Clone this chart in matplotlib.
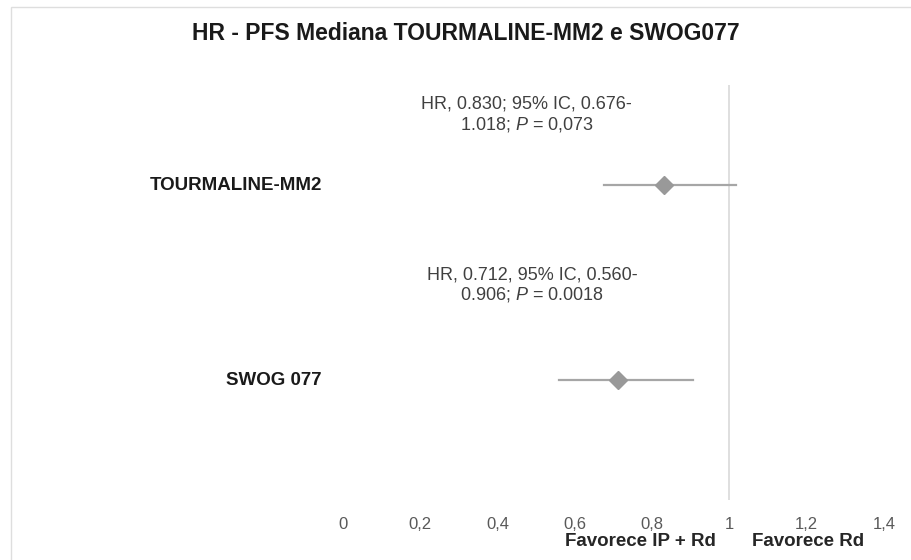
import matplotlib.pyplot as plt
from matplotlib.patches import Rectangle

plt.rcParams['font.family'] = ['Liberation Sans', 'DejaVu Sans']
plt.rcParams['mathtext.fontset'] = 'custom'
plt.rcParams['mathtext.rm'] = 'Liberation Sans'
plt.rcParams['mathtext.it'] = 'Liberation Sans:italic'

# dados
estudos = ['TOURMALINE-MM2', 'SWOG 077']
hr = [0.830, 0.712]
ic_inf = [0.676, 0.560]
ic_sup = [1.018, 0.906]
rotulos = ['HR, 0.830; 95% IC, 0.676-\n1.018; $\\it{P}$ = 0,073',
           'HR, 0.712, 95% IC, 0.560-\n0.906; $\\it{P}$ = 0.0018']
ticks = [0, 0.2, 0.4, 0.6, 0.8, 1, 1.2, 1.4]
tick_labels = ['0', '0,2', '0,4', '0,6', '0,8', '1', '1,2', '1,4']

fig = plt.figure(figsize=(9.11, 5.6), dpi=100)
fig.patches.append(Rectangle((11 / 911, -0.01), 1.0, 1 - 7 / 560 + 0.01,
                             transform=fig.transFigure, fill=False,
                             edgecolor='#dedede', linewidth=1))
ax = fig.add_axes([343 / 911, 60 / 560, (884 - 343) / 911, (500 - 85) / 560])

ypos = [2, 1]
xtxt = [0.475, 0.49]
dy = [0.36, 0.485]  # deslocamento vertical das caixas de texto
for i in range(len(estudos)):
    ax.plot([ic_inf[i], ic_sup[i]], [ypos[i], ypos[i]], color='#a6a6a6', lw=1.6, zorder=2)
    ax.plot(hr[i], ypos[i], marker='D', color='#999999', markersize=9.5, zorder=3)
    ax.text(-0.055, ypos[i], estudos[i], ha='right', va='center',
            fontsize=13.5, fontweight='bold', color='#1a1a1a')
    ax.text(xtxt[i], ypos[i] + dy[i], rotulos[i], ha='center', va='center',
            fontsize=13, color='#404040', linespacing=1.12)

ax.axvline(1, color='#d9d9d9', lw=1.2, zorder=1)
ax.set_xlim(0, 1.4)
ax.set_ylim(0.385, 2.513)
ax.set_xticks(ticks)
ax.set_xticklabels(tick_labels, fontsize=12, color='#595959')
ax.tick_params(axis='x', length=0, pad=12)
ax.set_yticks([])
for s in ax.spines.values():
    s.set_visible(False)

fig.text(466 / 911, 1 - 34 / 560, 'HR - PFS Mediana TOURMALINE-MM2 e SWOG077',
         ha='center', va='center', fontsize=16.5, fontweight='bold', color='#1a1a1a')
fig.text(640 / 911, 1 - 541 / 560, 'Favorece IP + Rd', ha='center', va='center',
         fontsize=13.5, fontweight='bold', color='#262626')
fig.text(808 / 911, 1 - 541 / 560, 'Favorece Rd', ha='center', va='center',
         fontsize=13.5, fontweight='bold', color='#262626')

fig.savefig('out.png', dpi=100)
